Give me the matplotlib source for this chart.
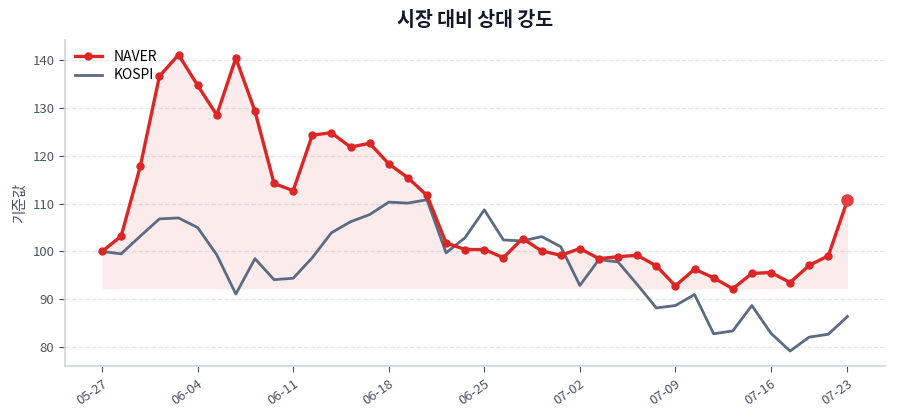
import matplotlib
matplotlib.use('Agg')
from matplotlib import pyplot as plt

plt.rcParams['font.family'] = ['Noto Sans CJK KR', 'DejaVu Sans']

# x축 라벨 (5거래일 간격)
tick_idx = [0, 5, 10, 15, 20, 25, 30, 35, 39]
tick_labels = ['05-27', '06-04', '06-11', '06-18', '06-25', '07-02', '07-09', '07-16', '07-23']

naver = [100.0, 103.2, 117.8, 136.6, 141.1, 134.7, 128.5, 140.4, 129.3, 114.2,
         112.7, 124.3, 124.8, 121.8, 122.6, 118.3, 115.4, 111.7, 101.8, 100.4,
         100.4, 98.7, 102.7, 100.1, 99.2, 100.6, 98.5, 98.9, 99.2, 97.0,
         92.8, 96.3, 94.5, 92.2, 95.4, 95.6, 93.5, 97.1, 99.1, 110.7]
kospi = [100.0, 99.5, 103.2, 106.8, 107.0, 105.0, 99.3, 91.1, 98.5, 94.1,
         94.4, 98.7, 103.9, 106.2, 107.7, 110.3, 110.1, 110.8, 99.7, 102.9,
         108.7, 102.4, 102.2, 103.1, 101.0, 92.9, 98.3, 97.8, 93.1, 88.2,
         88.7, 91.0, 82.8, 83.4, 88.7, 82.9, 79.2, 82.1, 82.7, 86.4]

x = list(range(len(naver)))
red = '#dc2626'
slate = '#5b6b84'

fig = plt.figure(figsize=(9, 4.2), dpi=100)
ax = fig.add_axes([0.072, 0.129, 0.911, 0.776])

ax.fill_between(x, naver, min(naver), color=red, alpha=0.09, linewidth=0)
ax.plot(x, naver, color=red, linewidth=2.4, marker='o', markersize=5, label='NAVER', zorder=3)
ax.plot(x, kospi, color=slate, linewidth=2, label='KOSPI', zorder=2)
ax.plot(x[-1], naver[-1], 'o', color='#e53e3e', markersize=8, zorder=4)

ax.set_title('시장 대비 상대 강도', fontsize=14, fontweight='bold', color='#111827', pad=10)
ax.set_ylabel('기준값', fontsize=10.5, color='#4b5563')
ax.set_xticks(tick_idx)
ax.set_xticklabels(tick_labels, rotation=35, ha='right', rotation_mode='anchor')
ax.tick_params(axis='both', labelsize=9.5, colors='#4b5563', length=4)
ax.tick_params(axis='x', pad=4)

ax.grid(axis='y', linestyle='--', color='#e5e7eb', linewidth=0.9)
ax.set_axisbelow(True)
for s in ['top', 'right']:
    ax.spines[s].set_visible(False)
for s in ['left', 'bottom']:
    ax.spines[s].set_color('#d1d5db')
    ax.spines[s].set_linewidth(1.2)

leg = ax.legend(loc='upper left', frameon=False, fontsize=10, labelspacing=0.35,
                borderaxespad=0.3)

fig.savefig('out.png', dpi=100)
